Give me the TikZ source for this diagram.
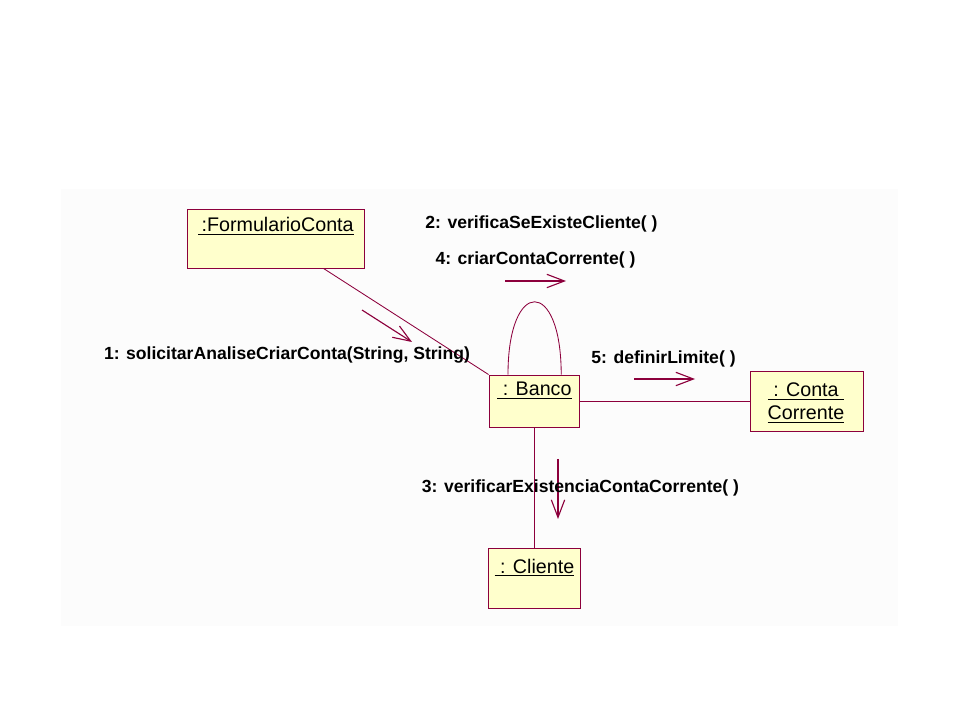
\documentclass[tikz,border=0pt]{standalone}
\usepackage{fontspec}
\setmainfont{Liberation Sans}
\usetikzlibrary{arrows.meta,positioning}
\definecolor{roseline}{RGB}{140,0,60}
\definecolor{rosefill}{RGB}{255,255,204}
\definecolor{sheetgray}{RGB}{252,252,252}
\tikzset{
  obj/.style={draw=roseline,fill=rosefill,line width=0.65pt,inner sep=0pt},
  objname/.style={font=\fontsize{14}{16.4}\selectfont,inner sep=0pt,align=center},
  msg/.style={font=\bfseries\fontsize{12.5}{14}\selectfont,inner sep=0pt},
  link/.style={draw=roseline,line width=0.6pt},
  msgarrow/.style={draw=roseline,line width=0.8pt,->}
}
\begin{document}
\begin{tikzpicture}[x=0.025cm,y=-0.025cm,>={Straight Barb[length=12.5pt,width=9.5pt]}]
				\useasboundingbox (0,0) rectangle (960,720);
				\fill[sheetgray] (61,189) rectangle (898,626);
				\node[obj,minimum width=4.425cm,minimum height=1.475cm] (form) at (275.5,238.5) {};
				\node[obj,minimum width=2.25cm,minimum height=1.3cm] (banco) at (534,401) {};
				\node[obj,minimum width=2.825cm,minimum height=1.5cm] (conta) at (806.5,401) {};
				\node[obj,minimum width=2.3cm,minimum height=1.5cm] (cliente) at (534,578) {};
				\node[objname,anchor=base] (formT) at (276,232) {\underline{\,:FormularioConta}};
				\node[objname,anchor=base] (bancoT) at (534.5,396) {\underline{~: Banco}};
				\node[objname] (contaT) at (806,403) {\underline{~: Conta~}\\\underline{Corrente}};
				\node[objname,anchor=base] (clienteT) at (534.5,573) {\underline{~: Cliente}};
				\draw[link] ([xshift=1.2cm]form.south) -- (banco.north west);
				\draw[link] ([xshift=-0.65cm]banco.north) .. controls +(0,-97) and +(0,-97) .. ([xshift=0.68cm]banco.north);
				\draw[link] (banco.east) -- (conta.west);
				\draw[link] (banco.south) -- (cliente.north);
				\coordinate (m1a) at (362,310);
				\coordinate (m1b) at (412,342);
				\coordinate (m2a) at (505,281);
				\coordinate (m2b) at (566,281);
				\coordinate (m5a) at (634,379);
				\coordinate (m5b) at (695,379);
				\coordinate (m3a) at (558,459);
				\coordinate (m3b) at (558,519);
				\draw[msgarrow] (m1a) -- (m1b);
				\draw[msgarrow] (m2a) -- (m2b);
				\draw[msgarrow] (m5a) -- (m5b);
				\draw[msgarrow] (m3a) -- (m3b);
				\node[msg] (m1) at (287,355) {1: solicitarAnaliseCriarConta(String, String)};
				\node[msg] (m2) at (541.5,224) {2: verificaSeExisteCliente( )};
				\node[msg] (m4) at (535.5,260) {4: criarContaCorrente( )};
				\node[msg] (m5) at (663.5,359) {5: definirLimite( )};
				\node[msg] (m3) at (580.5,488) {3: verificarExistenciaContaCorrente( )};
		\end{tikzpicture}
\end{document}
